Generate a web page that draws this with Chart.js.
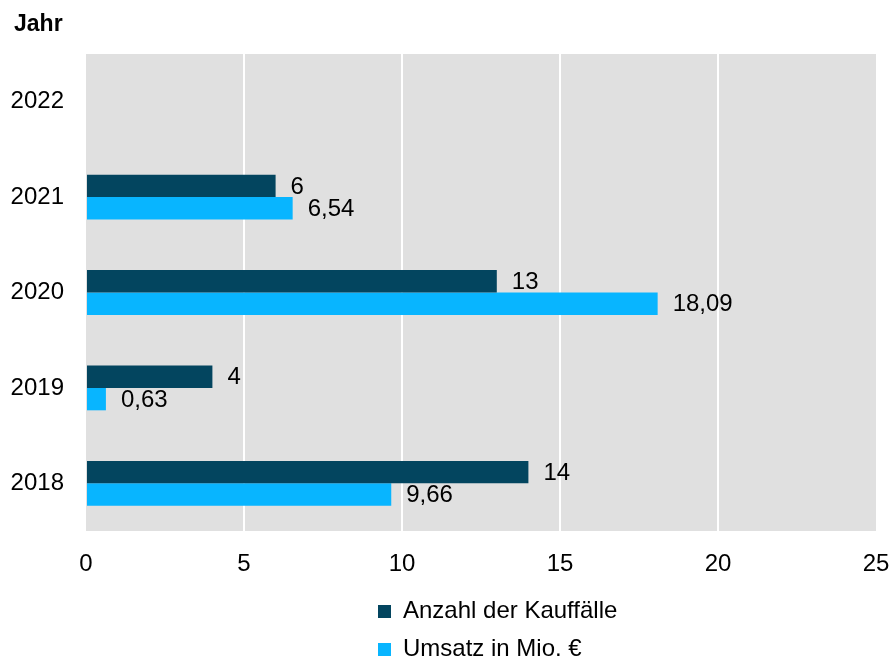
<!DOCTYPE html>
<html>
<head>
<meta charset="utf-8">
<script src="https://cdn.jsdelivr.net/npm/chart.js@4"></script>
<style>
  html, body { margin: 0; padding: 0; background: #fff; }
  #wrap { width: 891px; height: 659px; }
</style>
</head>
<body>
<div id="wrap"><canvas id="chart" width="891" height="659"></canvas></div>
<script>
const years = ["2022", "2021", "2020", "2019", "2018"];
const kauffaelle = [null, 6, 13, 4, 14];
const umsatz = [null, 6.54, 18.09, 0.63, 9.66];
const xTicks = [0, 5, 10, 15, 20, 25];

const FONT = "'Liberation Sans', Arial, sans-serif";
const SIZE = 24;
const DARK = "#03455f";
const LIGHT = "#08b5ff";

function fmt(v) {
    return String(v).replace(".", ",");
}

// grey plot background
const plotBg = {
    id: "plotBg",
    beforeDraw(chart) {
        const a = chart.chartArea, ctx = chart.ctx;
        ctx.save();
        ctx.fillStyle = "#e0e0e0";
        ctx.fillRect(a.left, a.top, a.right - a.left, a.bottom - a.top);
        ctx.restore();
    }
};

// value labels, axis caption and stacked legend
const extras = {
    id: "extras",
    afterDatasetsDraw(chart) {
        const ctx = chart.ctx;
        ctx.save();
        ctx.font = SIZE + "px " + FONT;
        ctx.fillStyle = "#000";
        ctx.textBaseline = "middle";
        ctx.textAlign = "left";
        chart.data.datasets.forEach((ds, i) => {
            chart.getDatasetMeta(i).data.forEach((bar, j) => {
                const v = ds.data[j];
                if (v == null) return;
                ctx.fillText(fmt(v), bar.x + 15, bar.y + 1);
            });
        });

        ctx.font = "bold 23px " + FONT;
        ctx.fillText("Jahr", 14, 25);

        ctx.font = SIZE + "px " + FONT;
        chart.data.datasets.forEach((ds, i) => {
            const y = 611 + i * 38;
            ctx.fillStyle = ds.backgroundColor;
            ctx.fillRect(378, y - 6, 13, 13);
            ctx.fillStyle = "#000";
            ctx.fillText(ds.label, 403, y);
        });
        ctx.restore();
    }
};

new Chart(document.getElementById("chart"), {
    type: "bar",
    data: {
        labels: years,
        datasets: [
            {
                label: "Anzahl der Kauffälle",
                data: kauffaelle,
                backgroundColor: DARK
            },
            {
                label: "Umsatz in Mio. €",
                data: umsatz,
                backgroundColor: LIGHT
            }
        ]
    },
    options: {
        indexAxis: "y",
        responsive: false,
        animation: false,
        maintainAspectRatio: false,
        layout: { padding: { top: 54, right: 15, left: 0, bottom: 0 } },
        datasets: {
            bar: { categoryPercentage: 0.47, barPercentage: 1 }
        },
        plugins: {
            legend: { display: false },
            tooltip: { enabled: false }
        },
        scales: {
            x: {
                min: 0,
                max: 25,
                afterBuildTicks: s => { s.ticks = xTicks.map(v => ({ value: v })); },
                afterFit: s => {
                    s.height = 128;
                    s.paddingLeft = 0;
                    s.paddingRight = 0;
                },
                border: { display: false },
                grid: {
                    drawTicks: false,
                    lineWidth: 2,
                    color: c => (c.tick && (c.tick.value === 0 || c.tick.value === 25)) ? "rgba(0,0,0,0)" : "#ffffff"
                },
                ticks: {
                    padding: 19,
                    color: "#000",
                    font: { family: FONT, size: SIZE }
                }
            },
            y: {
                afterFit: s => { s.width = 86; },
                border: { display: false },
                grid: { display: false, drawTicks: false },
                ticks: {
                    padding: 22,
                    color: "#000",
                    font: { family: FONT, size: SIZE }
                }
            }
        }
    },
    plugins: [plotBg, extras]
});
</script>
</body>
</html>
